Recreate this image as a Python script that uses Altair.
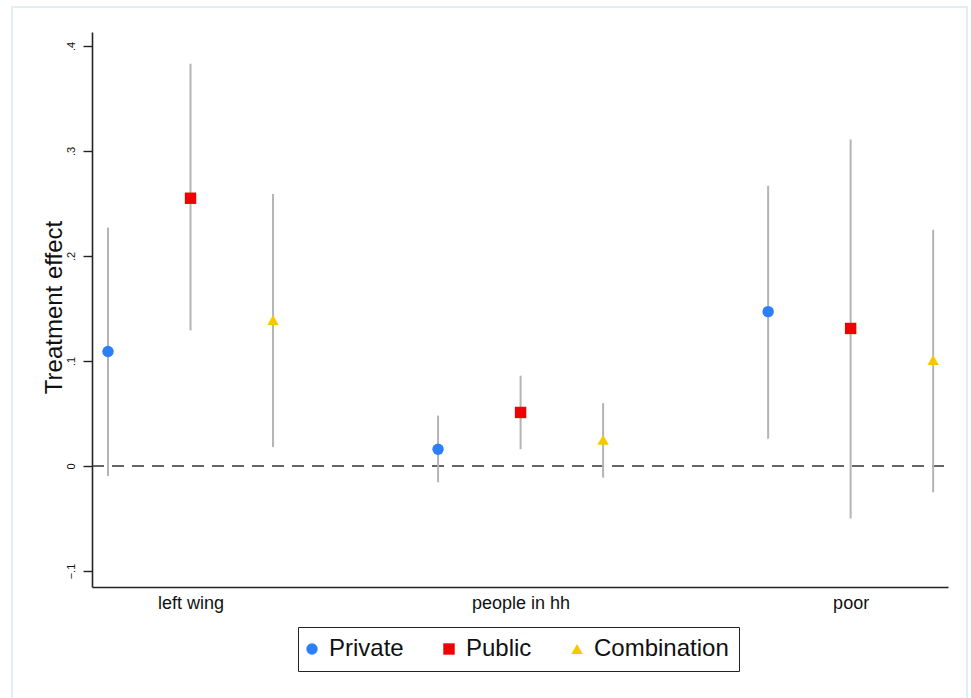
import altair as alt
import pandas as pd

# Treatment-effect estimates with 95% confidence bounds, by outcome group
groups = ["left wing", "people in hh", "poor"]
treatments = ["Private", "Public", "Combination"]

estimate = [
    [0.109, 0.255, 0.139],   # left wing
    [0.016, 0.051, 0.025],   # people in hh
    [0.147, 0.131, 0.101],   # poor
]
lower = [
    [-0.0095, 0.129, 0.018],
    [-0.0155, 0.016, -0.011],
    [0.026, -0.050, -0.025],
]
upper = [
    [0.227, 0.383, 0.259],
    [0.048, 0.086, 0.060],
    [0.267, 0.311, 0.225],
]

marker_colors = ["#2d7ff9", "#f00000", "#f7c800"]
marker_shapes = ["circle", "square", "triangle-up"]
marker_sizes = [130, 130, 175]

rows = []
for gi, g in enumerate(groups):
    for ti, t in enumerate(treatments):
        rows.append({
            "group": g,
            "treatment": t,
            "slot": gi * 4 + ti,
            "estimate": estimate[gi][ti],
            "lower": lower[gi][ti],
            "upper": upper[gi][ti],
        })
df = pd.DataFrame(rows)

W, H = 856, 555
x_scale = alt.Scale(domain=[-0.194, 10.18], nice=False, zero=False)
y_scale = alt.Scale(domain=[-0.1152, 0.4133], nice=False, zero=False)

# label expression: the middle slot of each group carries the group name
centre_slots = [gi * 4 + 1 for gi in range(len(groups))]
label_expr = "''"
for slot, g in reversed(list(zip(centre_slots, groups))):
    label_expr = f"datum.value == {slot} ? '{g}' : ({label_expr})"

x_enc = alt.X(
    "slot:Q", scale=x_scale, title=None,
    axis=alt.Axis(values=centre_slots, labelExpr=label_expr, ticks=False,
                  grid=False, labelFontSize=18, labelPadding=7,
                  domainColor="#222222", domainWidth=1.6, labelColor="#111111"),
)
y_axis = alt.Axis(
    values=[-0.1, 0, 0.1, 0.2, 0.3, 0.4],
    labelExpr="datum.value == 0 ? '0' : replace(format(datum.value, '.1f'), '0.', '.')",
    labelAngle=270, labelAlign="center", labelBaseline="bottom",
    labelFontSize=11, labelPadding=7, tickSize=9, tickWidth=1.4,
    tickColor="#222222", domainColor="#222222", domainWidth=1.6, grid=False,
    title="Treatment effect", titleFontSize=24, titleFontWeight="normal",
    titleAngle=270, titleAlign="center", titleBaseline="alphabetic",
    titleX=-31, titleY=275, titleColor="#111111", labelColor="#111111",
)

base = alt.Chart(df)

frame = base.mark_rect(fill=None, stroke="#e4eef2", strokeWidth=2).encode(
    x=alt.value(-80), x2=alt.value(875), y=alt.value(-25), y2=alt.value(700)
).transform_filter("datum.slot == 0")

zero_line = alt.Chart(pd.DataFrame({"y": [0.0]})).mark_rule(
    color="#333333", strokeWidth=1.5, strokeDash=[12, 8]
).encode(
    y=alt.Y("y:Q", scale=y_scale, axis=y_axis),
    x=alt.value(0), x2=alt.value(W),
)

bars = base.mark_rule(color="#b4b4b4", strokeWidth=2).encode(
    x=x_enc,
    y=alt.Y("lower:Q", scale=y_scale),
    y2="upper:Q",
)

points = base.mark_point(filled=True, opacity=1).encode(
    x=alt.X("slot:Q", scale=x_scale),
    y=alt.Y("estimate:Q", scale=y_scale),
    color=alt.Color(
        "treatment:N",
        scale=alt.Scale(domain=treatments, range=marker_colors),
        legend=alt.Legend(
            title=None, orient="none", direction="horizontal",
            legendX=206, legendY=595, labelFontSize=24, labelColor="#111111",
            symbolSize=105, symbolStrokeWidth=0, symbolOffset=-8,
            labelOffset=5, columnPadding=39, padding=10,
            strokeColor="#222222", fillColor="white",
        ),
    ),
    shape=alt.Shape(
        "treatment:N",
        scale=alt.Scale(domain=treatments, range=marker_shapes),
        legend=None,
    ),
    size=alt.Size(
        "treatment:N",
        scale=alt.Scale(domain=treatments, range=marker_sizes),
        legend=None,
    ),
)

chart = alt.layer(frame, zero_line, bars, points).properties(
    width=W, height=H,
    autosize=alt.AutoSizeParams(type="none"),
    padding={"left": 92, "top": 32, "right": 23, "bottom": 111},
    background="white",
).configure(
    font="Liberation Sans",
).configure_view(stroke=None).resolve_scale(x="shared", y="shared")

chart.save("out.html", embed_options={"renderer": "svg", "actions": False})
